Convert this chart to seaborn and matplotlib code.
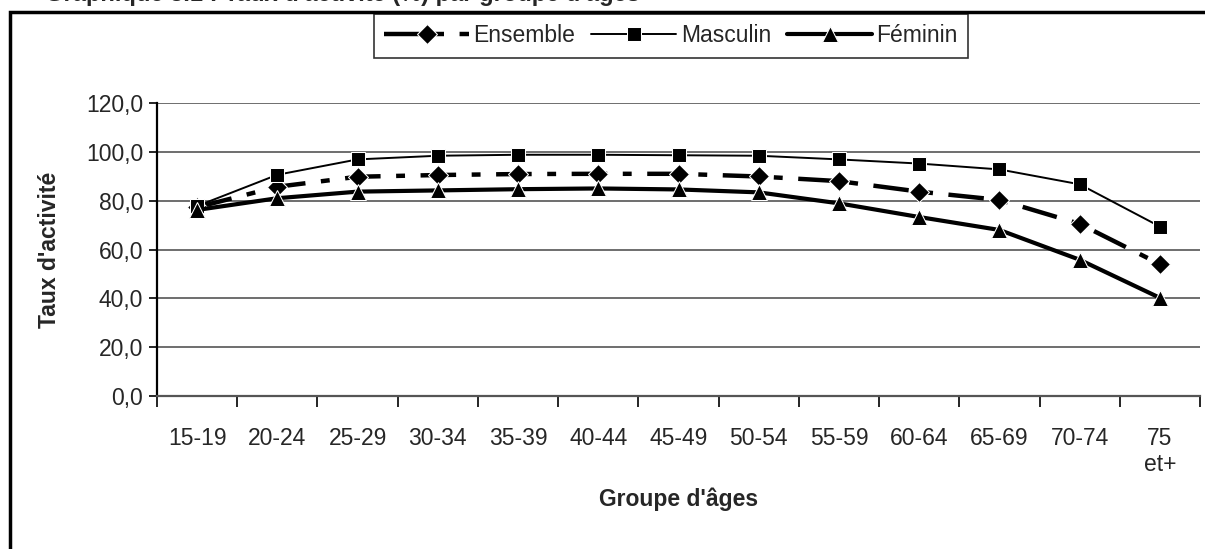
import seaborn as sns
import matplotlib.pyplot as plt
import matplotlib.patches as mpatches
import pandas as pd

groupes = ["15-19", "20-24", "25-29", "30-34", "35-39", "40-44", "45-49",
           "50-54", "55-59", "60-64", "65-69", "70-74", "75\net+"]
ensemble = [77.3, 85.7, 89.8, 90.5, 90.9, 91.0, 91.0, 89.9, 88.0, 83.7, 80.3, 70.5, 54.0]
masculin = [77.8, 90.6, 96.9, 98.4, 98.8, 98.8, 98.6, 98.4, 96.9, 95.2, 92.8, 86.7, 69.4]
feminin = [76.2, 81.0, 83.7, 84.2, 84.7, 85.0, 84.6, 83.4, 78.9, 73.3, 68.0, 55.8, 40.2]

df = pd.DataFrame({"pos": range(len(groupes)), "Ensemble": ensemble,
                   "Masculin": masculin, "Féminin": feminin})

sns.set_theme(style="white")
plt.rcParams["font.family"] = ["Liberation Sans", "DejaVu Sans"]

fig = plt.figure(figsize=(12.05, 5.49), dpi=100)
ax = fig.add_axes([157 / 1205, 1 - 396 / 549, 1043 / 1205, 293 / 549])

sns.lineplot(data=df, x="pos", y="Ensemble", ax=ax, color="black", lw=3.2,
             marker="D", markersize=10, label="Ensemble")
ax.lines[-1].set_dashes([8, 3.5, 2, 3.5])
sns.lineplot(data=df, x="pos", y="Masculin", ax=ax, color="black", lw=1.4,
             marker="s", markersize=10, label="Masculin")
sns.lineplot(data=df, x="pos", y="Féminin", ax=ax, color="black", lw=3.0,
             marker="^", markersize=12, label="Féminin")

ax.set_xlim(-0.5, len(groupes) - 0.5)
ax.set_ylim(0, 120)
ax.set_yticks(range(0, 121, 20))
ax.set_yticklabels([f"{v},0" for v in range(0, 121, 20)], fontsize=16.5)
ax.yaxis.grid(True, color="#555555", lw=1.2)
ax.set_axisbelow(True)

# ticks at the category boundaries, labels centred between them
ax.set_xticks([i - 0.5 for i in range(len(groupes) + 1)])
ax.set_xticklabels([])
ax.set_xticks(range(len(groupes)), minor=True)
ax.set_xticklabels(groupes, minor=True, fontsize=16.5, va="top")
ax.tick_params(axis="x", which="major", length=8, width=1.2, color="black", direction="out")
ax.tick_params(axis="x", which="minor", length=0, pad=22)
ax.tick_params(axis="y", length=6, width=1.2, color="black", direction="out", pad=4)
ax.xaxis.set_ticks_position("bottom")
ax.yaxis.set_ticks_position("left")

for s in ["top", "right"]:
    ax.spines[s].set_visible(False)
ax.spines["left"].set_color("black")
ax.spines["left"].set_linewidth(1.6)
ax.spines["bottom"].set_color("#555555")
ax.spines["bottom"].set_linewidth(1.6)

ax.set_xlabel("Groupe d'âges", fontsize=16.5, fontweight="bold", labelpad=8)
ax.set_ylabel("Taux d'activité", fontsize=16.5, fontweight="bold", labelpad=18)

leg = ax.legend(loc="center", bbox_to_anchor=(671 / 1205, 1 - 36 / 549),
                bbox_transform=fig.transFigure, ncol=3, frameon=True, fancybox=False,
                fontsize=16.5, handlelength=3.7, handletextpad=0.2, columnspacing=0.7,
                borderpad=0.45, edgecolor="black")
leg.get_frame().set_linewidth(1.2)

# outer frame of the exhibit, cut at the right and bottom edges
fig.patches.append(mpatches.Rectangle((10 / 1205, -0.1), 1.2, 1 - 12 / 549 + 0.1,
                                      transform=fig.transFigure, fill=False,
                                      edgecolor="black", lw=2.5))
fig.text(640 / 1205, 1 - 1.5 / 549, "Graphique 3.1 : Taux d'activité (%) par groupe d'âges",
         ha="right", va="baseline", fontsize=17, fontweight="bold")

fig.savefig("out.png", dpi=100)
